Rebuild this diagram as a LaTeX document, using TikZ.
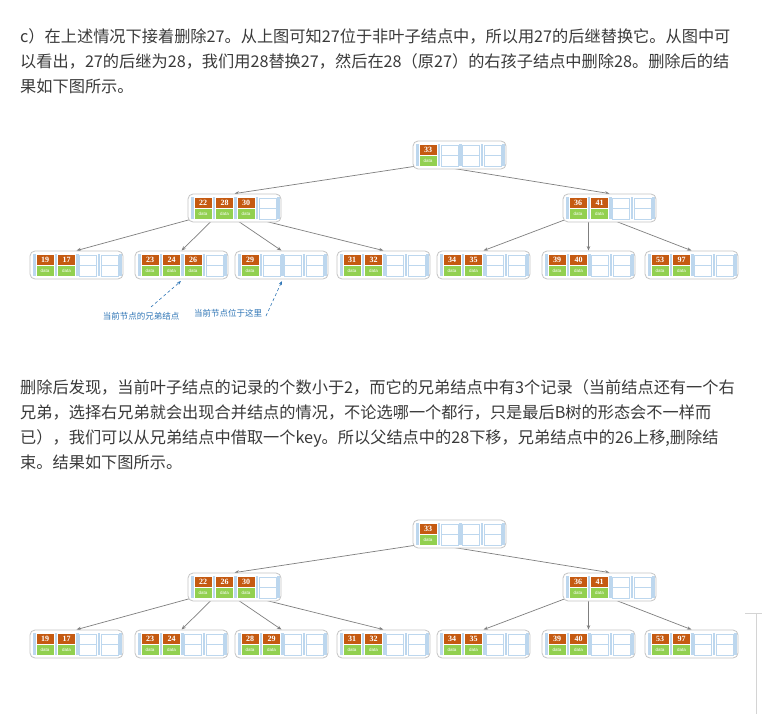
\documentclass[tikz,border=0pt]{standalone}
\usepackage{fontspec}
\usetikzlibrary{arrows.meta}
\newfontfamily\cjk{Noto Sans CJK SC}
\newfontfamily\keyfont{Liberation Serif}
\newfontfamily\datafont{Liberation Sans}
\definecolor{txt}{HTML}{3A3A3A}
\definecolor{ko}{HTML}{C55A11}
\definecolor{dg}{HTML}{92D050}
\definecolor{lb}{HTML}{BDD7EE}
\definecolor{bx}{HTML}{C4C4C4}
\definecolor{eg}{HTML}{7F7F7F}
\definecolor{an}{HTML}{2E75B6}
\definecolor{frame}{HTML}{D4D4D4}
\pgfdeclarelayer{back}
\pgfdeclarelayer{bg}
\pgfsetlayers{back,bg,main}
\tikzset{
  bbox/.style={rectangle,draw=bx,line width=0.8pt,rounded corners=5pt,minimum width=93pt,minimum height=28pt,inner sep=0pt,fill=white},
  keyt/.style={text=white,inner sep=0pt,font=\keyfont\bfseries\fontsize{8}{9}\selectfont},
  datat/.style={text=white,inner sep=0pt,font=\datafont\fontsize{4.5}{5}\selectfont},
  para/.style={anchor=base west,inner sep=0pt,text=txt,font=\cjk\fontsize{16.2}{18}\selectfont},
  edge/.style={draw=eg,line width=0.7pt,-{Stealth[length=4.5pt,width=3.5pt]}},
  ann/.style={draw=an,line width=0.6pt,dashed,dash pattern=on 3pt off 2.5pt,-{Stealth[length=4pt,width=3pt]}},
  annt/.style={text=an,inner sep=0pt,font=\cjk\fontsize{8.5}{9}\selectfont}
}
\newcommand\bnode[5]{%
  \node[bbox] (#1) at (#2+46.5,#3+14) {};
  \foreach \k [count=\i from 0] in {#5}{%
    \pgfmathsetmacro\sx{#2+3+21.5*\i}%
    \fill[lb] (\sx,#3+3) rectangle ++(2.5,22);
    \fill[ko] (\sx+3.5,#3+4) rectangle ++(17,10);
    \fill[dg] (\sx+3.5,#3+15) rectangle ++(17,10);
    \node[keyt] at (\sx+12,#3+9.2) {\k};
    \node[datat] at (\sx+12,#3+20) {data};
  }%
  \foreach \i in {#4,...,3}{%
    \pgfmathsetmacro\sx{#2+3+21.5*\i}%
    \fill[lb] (\sx,#3+3) rectangle ++(2.5,22);
    \draw[lb,line width=0.6pt,fill=white] (\sx+3.5,#3+4) rectangle ++(17,10.5);
    \draw[lb,line width=0.6pt,fill=white] (\sx+3.5,#3+14.5) rectangle ++(17,10.5);
  }%
  \fill[lb] (#2+89,#3+3) rectangle ++(2.5,22);
  \foreach \i in {0,...,#4}{%
    \coordinate (#1p\i) at (#2+4+21.5*\i,#3+25);
  }%
}
\begin{document}
\begin{tikzpicture}[x=1pt,y=-1pt]
\begin{pgfonlayer}{back}
\fill[white] (0,0) rectangle (762,714);
\end{pgfonlayer}
\useasboundingbox (0,0) rectangle (762,714);

% paragraph 1
\node[para] (t1) at (20,43) {c）在上述情况下接着删除27。从上图可知27位于非叶子结点中，所以用27的后继替换它。从图中可};
\node[para] (t2) at (20,68) {以看出，27的后继为28，我们用28替换27，然后在28（原27）的右孩子结点中删除28。删除后的结};
\node[para] (t3) at (20,93) {果如下图所示。};

% tree 1
\bnode{ra}{413}{141}{1}{33}
\bnode{la}{188}{194}{3}{22,28,30}
\bnode{ma}{563}{194}{2}{36,41}
\bnode{a1}{30}{251}{2}{19,17}
\bnode{a2}{135}{251}{3}{23,24,26}
\bnode{a3}{235}{251}{1}{29}
\bnode{a4}{337}{251}{2}{31,32}
\bnode{a5}{437}{251}{2}{34,35}
\bnode{a6}{542}{251}{2}{39,40}
\bnode{a7}{645}{251}{2}{53,97}

% annotations
\node[annt] (n1) at (141,316) {当前节点的兄弟结点};
\node[annt] (n2) at (228,313) {当前节点位于这里};
\coordinate (s1) at (151,307);
\coordinate (e1) at (181,281);
\coordinate (s2) at (266,316);
\coordinate (e2) at (282,281);
\draw[ann] (s1) -- (e1);
\draw[ann] (s2) -- (e2);

% paragraph 2
\node[para] (u1) at (20,393) {删除后发现，当前叶子结点的记录的个数小于2，而它的兄弟结点中有3个记录（当前结点还有一个右};
\node[para] (u2) at (20,418) {兄弟，选择右兄弟就会出现合并结点的情况，不论选哪一个都行，只是最后B树的形态会不一样而};
\node[para] (u3) at (20,443) {已），我们可以从兄弟结点中借取一个key。所以父结点中的28下移，兄弟结点中的26上移,删除结};
\node[para] (u4) at (20,468) {束。结果如下图所示。};

% tree 2
\bnode{rb}{413}{520}{1}{33}
\bnode{lb}{188}{573}{3}{22,26,30}
\bnode{mb}{563}{573}{2}{36,41}
\bnode{b1}{30}{630}{2}{19,17}
\bnode{b2}{135}{630}{2}{23,24}
\bnode{b3}{235}{630}{2}{28,29}
\bnode{b4}{337}{630}{2}{31,32}
\bnode{b5}{437}{630}{2}{34,35}
\bnode{b6}{542}{630}{2}{39,40}
\bnode{b7}{645}{630}{2}{53,97}

% frame corner at bottom right
\draw[frame,line width=0.8pt] (745,613.5) -- (762,613.5);
\draw[frame,line width=0.8pt] (756.5,613.5) -- (756.5,714);

\begin{pgfonlayer}{bg}
\draw[edge] (rap0) -- (la.north);
\draw[edge] (rap1) -- (ma.north);
\draw[edge] (lap0) -- (a1.north);
\draw[edge] (lap1) -- (a2.north);
\draw[edge] (lap2) -- (a3.north);
\draw[edge] (lap3) -- (a4.north);
\draw[edge] (map0) -- (a5.north);
\draw[edge] (map1) -- (a6.north);
\draw[edge] (map2) -- (a7.north);
\draw[edge] (rbp0) -- (lb.north);
\draw[edge] (rbp1) -- (mb.north);
\draw[edge] (lbp0) -- (b1.north);
\draw[edge] (lbp1) -- (b2.north);
\draw[edge] (lbp2) -- (b3.north);
\draw[edge] (lbp3) -- (b4.north);
\draw[edge] (mbp0) -- (b5.north);
\draw[edge] (mbp1) -- (b6.north);
\draw[edge] (mbp2) -- (b7.north);
\end{pgfonlayer}
\end{tikzpicture}
\end{document}
